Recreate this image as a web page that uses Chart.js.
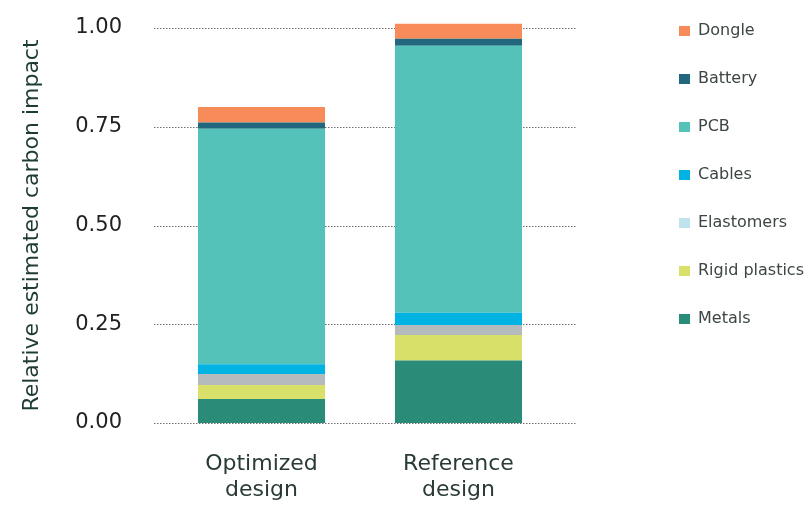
<!DOCTYPE html>
<html>
<head>
<meta charset="utf-8">
<script src="https://cdn.jsdelivr.net/npm/chart.js@4"></script>
<style>
  html, body { margin: 0; padding: 0; background: #fff; }
  #wrap { width: 808px; height: 505px; }
</style>
</head>
<body>
<div id="wrap"><canvas id="myChart"></canvas></div>
<script>
// designs on the x axis
var designs = [['Optimized', 'design'], ['Reference', 'design']];

// material share per design, bottom of the stack first
var metals        = [0.061, 0.158];
var rigidPlastics = [0.035, 0.065];
var elastomers    = [0.028, 0.025];
var cables        = [0.025, 0.031];
var pcb           = [0.596, 0.676];
var battery       = [0.016, 0.018];
var dongle        = [0.039, 0.038];

var yTicks = [0, 0.25, 0.5, 0.75, 1];

var FONT = 'DejaVu Sans';
var LEGEND_SIZE = 16;
var LEGEND_GAP = 48 - LEGEND_SIZE;  // legend rows are 48px apart
var LEGEND_X = 679;                 // left edge of the legend boxes
var PLOT_RIGHT = 557;

var series = [
    {label: 'Metals',         data: metals,        color: '#2A8B78', legend: '#2A8B78'},
    {label: 'Rigid plastics', data: rigidPlastics, color: '#D9E06A', legend: '#D9E06A'},
    {label: 'Elastomers',     data: elastomers,    color: '#B5BBBD', legend: '#BEE3EC'},
    {label: 'Cables',         data: cables,        color: '#00B3E3', legend: '#00B3E3'},
    {label: 'PCB',            data: pcb,           color: '#55C2BA', legend: '#55C2BA'},
    {label: 'Battery',        data: battery,       color: '#22677E', legend: '#22677E'},
    {label: 'Dongle',         data: dongle,        color: '#F78B5A', legend: '#F78B5A'}
];

// dotted horizontal lines, a bit wider than the plot area
var dottedGrid = {
    id: 'dottedGrid',
    beforeDatasetsDraw: function(chart) {
        var ctx = chart.ctx, area = chart.chartArea, y = chart.scales.y;
        ctx.save();
        ctx.strokeStyle = '#707070';
        ctx.lineWidth = 1;
        ctx.setLineDash([1.5, 1.5]);
        yTicks.forEach(function(v) {
            var py = Math.round(y.getPixelForValue(v)) + 0.5;
            ctx.beginPath();
            ctx.moveTo(area.left - 9, py);
            ctx.lineTo(area.right + 19, py);
            ctx.stroke();
        });
        ctx.restore();
    }
};

// legend starts higher than the plot top
var legendUp = {
    id: 'legendUp',
    afterLayout: function(chart) {
        var dy = chart.legend.top - (23 - LEGEND_GAP);
        chart.legend.top -= dy;
        chart.legend.bottom -= dy;
    }
};

// widest legend entry decides where the legend column starts
var ctx = document.getElementById('myChart').getContext('2d');
ctx.font = LEGEND_SIZE + 'px "' + FONT + '"';
var widest = Math.max.apply(null, series.map(function(s) { return ctx.measureText(s.label).width; }));
var padRight = 808 - LEGEND_X - 10 - (11 + LEGEND_SIZE / 2 + widest);

var myChart = new Chart(ctx, {
    type: 'bar',
    data: {
        labels: designs,
        datasets: series.map(function(s) {
            return {
                label: s.label,
                data: s.data,
                backgroundColor: s.color,
                legendColor: s.legend,
                borderWidth: 0,
                barPercentage: 0.645,
                categoryPercentage: 1,
                clip: false
            };
        })
    },
    options: {
        responsive: true,
        maintainAspectRatio: false,
        animation: false,
        layout: {padding: {top: 28, right: padRight, bottom: 0, left: 0}},
        plugins: {
            tooltip: {enabled: false},
            legend: {
                position: 'right',
                align: 'start',
                reverse: true,
                labels: {
                    boxWidth: 11,
                    boxHeight: 10,
                    padding: LEGEND_GAP,
                    color: '#3d4545',
                    font: {family: FONT, size: LEGEND_SIZE},
                    generateLabels: function(chart) {
                        var items = Chart.defaults.plugins.legend.labels.generateLabels(chart);
                        items.forEach(function(it) {
                            it.fillStyle = chart.data.datasets[it.datasetIndex].legendColor;
                            it.lineWidth = 0;
                        });
                        return items;
                    }
                }
            }
        },
        scales: {
            x: {
                stacked: true,
                grid: {display: false, drawTicks: false},
                border: {display: false},
                ticks: {color: '#2a3b36', padding: 28, font: {family: FONT, size: 22}},
                afterFit: function(s) { s.height = 82; }
            },
            y: {
                stacked: true,
                min: 0,
                max: 1,
                afterBuildTicks: function(s) {
                    s.ticks = yTicks.map(function(v) { return {value: v}; });
                },
                grid: {display: false, drawTicks: false},
                border: {display: false},
                ticks: {
                    color: '#222',
                    padding: 41,
                    font: {family: FONT, size: 21},
                    callback: function(v) { return v.toFixed(2); }
                },
                title: {
                    display: true,
                    text: 'Relative estimated carbon impact',
                    color: '#1f3b36',
                    font: {family: FONT, size: 22},
                    padding: {top: 19, bottom: 0}
                },
                afterFit: function(s) {
                    s.width = 163;
                    s.paddingTop = 13;
                    s.paddingBottom = 13;
                }
            },
            // empty room between the plot and the legend
            spacer: {
                type: 'linear',
                position: 'right',
                display: false,
                afterFit: function(s) { s.width = LEGEND_X - LEGEND_GAP - PLOT_RIGHT; }
            }
        }
    },
    plugins: [dottedGrid, legendUp]
});
</script>
</body>
</html>
